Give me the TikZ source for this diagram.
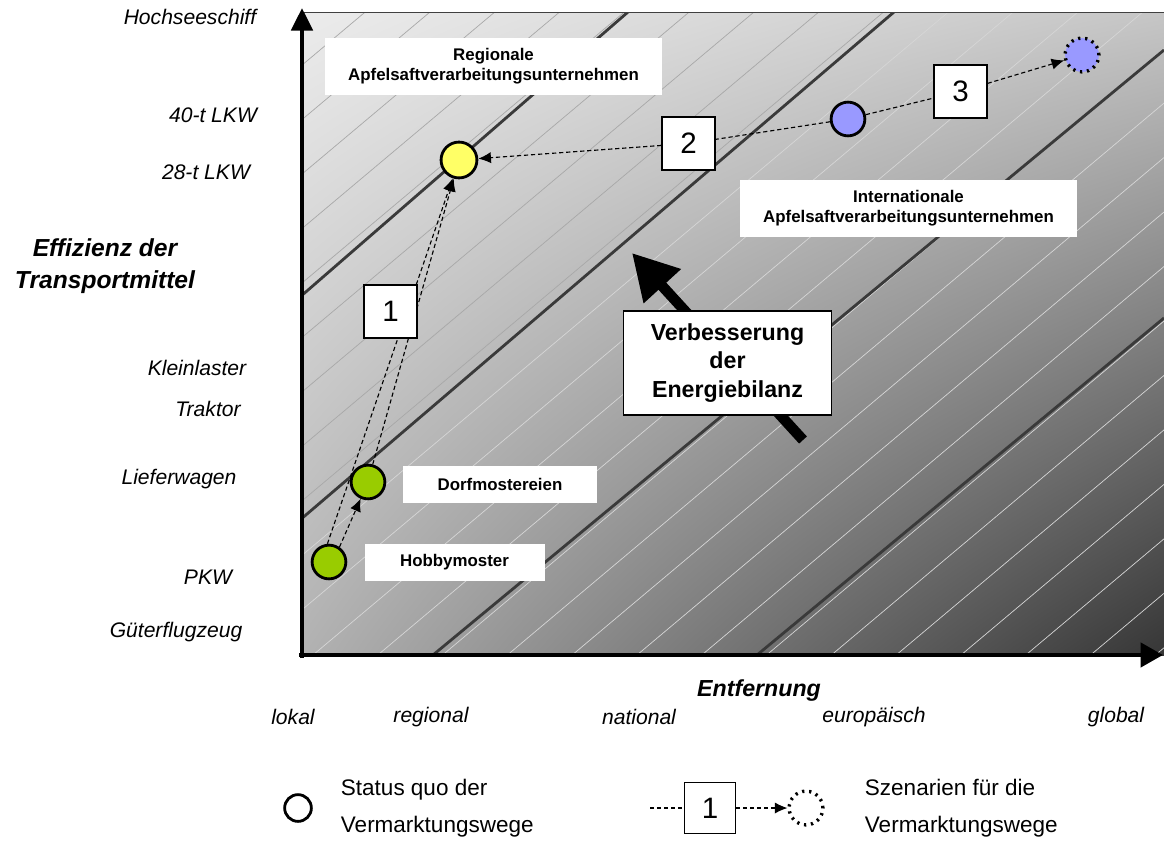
\documentclass[tikz,border=0pt]{standalone}
\usepackage{fontspec}
\setmainfont{Liberation Sans}
\usetikzlibrary{arrows.meta,positioning,calc,shadings}

\definecolor{bgTL}{HTML}{ECECEC}
\definecolor{bgTR}{HTML}{C6C6C6}
\definecolor{bgBL}{HTML}{B2B2B2}
\definecolor{bgBR}{HTML}{363636}
\definecolor{hatchDark}{HTML}{A8A8A8}
\definecolor{hatchLight}{HTML}{D6D6D6}
\definecolor{band}{HTML}{3A3A3A}
\definecolor{regYellow}{HTML}{FFFF66}
\definecolor{intBlue}{HTML}{9999FF}
\definecolor{locGreen}{HTML}{99CC00}

\tikzset{
  firm/.style={circle,draw=black,line width=2pt,minimum size=24pt,inner sep=0pt},
  scenfirm/.style={circle,draw=black,line width=2.4pt,dash pattern=on 1.6pt off 3.4pt,minimum size=24pt,inner sep=0pt},
  tag/.style={fill=white,inner sep=0pt,align=center,font=\fontsize{12}{14}\selectfont\bfseries},
  numbox/.style={draw=black,fill=white,line width=1pt,minimum size=37.5pt,inner sep=0pt,font=\fontsize{21}{24}\selectfont},
  scen/.style={line width=0.8pt,dash pattern=on 3pt off 2pt},
  scenarrow/.style={scen,-{Latex[length=9pt,width=8pt]}},
  ticklab/.style={font=\fontsize{15}{18}\selectfont\itshape},
  legtext/.style={anchor=west,align=left,font=\fontsize{16}{26}\selectfont}
}

\begin{document}
\begin{tikzpicture}[x=0.025cm,y=-0.025cm]
	\useasboundingbox (0,0) rectangle (1164,857);
	
	% background of the diagram
	\shade[upper left=bgTL,upper right=bgTR,lower left=bgBL,lower right=bgBR] (300,12) rectangle (1164,655);
	\begin{scope}
		\clip (300,12) rectangle (1164,655);
		\foreach \k in {-12,...,-3}
			\draw[hatchDark,line width=0.5pt] ({313+64.8*\k},655) -- ++(765,-643);
		\foreach \k in {-2,...,13}
			\draw[hatchLight,line width=0.5pt] ({313+64.8*\k},655) -- ++(765,-643);
		% bands
		\draw[band,line width=2pt] (300,297) -- (628,12);
		\draw[band,line width=2pt] (300,520) -- (894,12);
		\draw[band,line width=2pt] (433,655) -- (1164,50);
		\draw[band,line width=2pt] (757,655) -- (1164,318);
	\end{scope}
	\draw[black!75,line width=0.7pt] (300,12) -- (1164,12);
	
	% axes
	\coordinate (O) at (302,655);
	\coordinate (ytop) at (302,8);
	\coordinate (xend) at (1163,655);
	\draw[line width=3pt,-{Triangle[length=16pt,width=15pt]}] ($(O)+(0,3)$) -- (ytop);
	\draw[line width=3.5pt,-{Triangle[length=16pt,width=17pt]}] ($(O)+(-3,0)$) -- (xend);
	
	% y labels
	\node[ticklab] (hs) at (190,17) {Hochseeschiff};
	\node[ticklab] (lkw40) at (213,115) {40-t LKW};
	\node[ticklab] (lkw28) at (206,172) {28-t LKW};
	\node[ticklab] (kl) at (197,368) {Kleinlaster};
	\node[ticklab] (tr) at (208,409) {Traktor};
	\node[ticklab] (lw) at (179,479) {Lieferwagen};
	\node[ticklab] (pkw) at (208,577) {PKW};
	\node[ticklab] (gf) at (176,632) {Güterflugzeug};
	\node[align=center,font=\fontsize{17.5}{22.7}\selectfont\bfseries\itshape] (ylab) at (105,266) {Effizienz der\\Transportmittel};
	
	% x labels
	\node[font=\fontsize{16.5}{20}\selectfont\bfseries\itshape] (xlab) at (759,690) {Entfernung};
	\node[ticklab] (lok) at (293,717) {lokal};
	\node[ticklab] (reg) at (431,717) {regional};
	\node[ticklab] (nat) at (639,717) {national};
	\node[ticklab] (eur) at (874,717) {europäisch};
	\node[ticklab] (glo) at (1116,717) {global};
	
	% improvement arrow
	\coordinate (imptail) at (803,440);
	\coordinate (imptip) at (632,253);
	\draw[line width=7.5pt,-{Triangle[length=32pt,width=34pt]}] (imptail) -- (imptip);
	\node[draw=black,fill=white,line width=1pt,minimum width=148pt,minimum height=74pt,inner sep=0pt,align=center,font=\fontsize{16.5}{20}\selectfont\bfseries] (imp) at (727.5,363) {Verbesserung\\der\\Energiebilanz};
	
	% firms
	\node[firm,fill=regYellow,minimum size=25.5pt] (regional) at (459,160) {};
	\node[firm,fill=intBlue] (intl) at (848,119) {};
	\node[scenfirm,fill=intBlue] (glob) at (1082,55) {};
	\node[firm,fill=locGreen] (dorf) at (368,482) {};
	\node[firm,fill=locGreen] (hobby) at (329,562) {};
	
	% scenario 1
	\draw[scenarrow] (hobby.95) -- (regional);
	\draw[scenarrow] (dorf.75) -- (regional);
	\draw[scenarrow] (hobby.55) -- (dorf);
	\node[numbox] (s1) at (390.5,311.5) {1};
	
	% scenario 2 and 3
	\node[numbox] (s2) at (688.5,143.5) {2};
	\node[numbox] (s3) at (960.5,91.5) {3};
	\draw[scen] (intl) -- (s2);
	\draw[scenarrow] (s2) -- (regional);
	\draw[scen] (intl) -- (s3);
	\draw[scenarrow] (s3) -- (glob);
	
	% labels
	\node[tag,minimum width=239pt,minimum height=40pt] (regtag) at (493.5,66.5) {Regionale\\Apfelsaftverarbeitungsunternehmen};
	\node[tag,minimum width=240pt,minimum height=40pt] (inttag) at (908.5,208.5) {Internationale\\Apfelsaftverarbeitungsunternehmen};
	\node[tag,minimum width=137.5pt,minimum height=26pt] (dorftag) at (500,484.5) {Dorfmostereien};
	\node[tag,minimum width=128pt,minimum height=26pt] (hobbytag) at (454.5,562.5) {Hobbymoster};
	
	% legend
	\node[firm,fill=white,minimum size=19pt] (legsq) at (298,808) {};
	\node[legtext] (legsqtxt) at (336,808) {Status quo der\\Vermarktungswege};
	\coordinate (legstart) at (650,808);
	\node[numbox,minimum size=36pt] (legbox) at (710,808) {1};
	\node[scenfirm,minimum size=24pt] (legsc) at (806,808) {};
	\draw[scen] (legstart) -- (legbox);
	\draw[scenarrow] (legbox) -- (legsc);
	\node[legtext] (legsctxt) at (860,808) {Szenarien für die\\Vermarktungswege};
\end{tikzpicture}
\end{document}
